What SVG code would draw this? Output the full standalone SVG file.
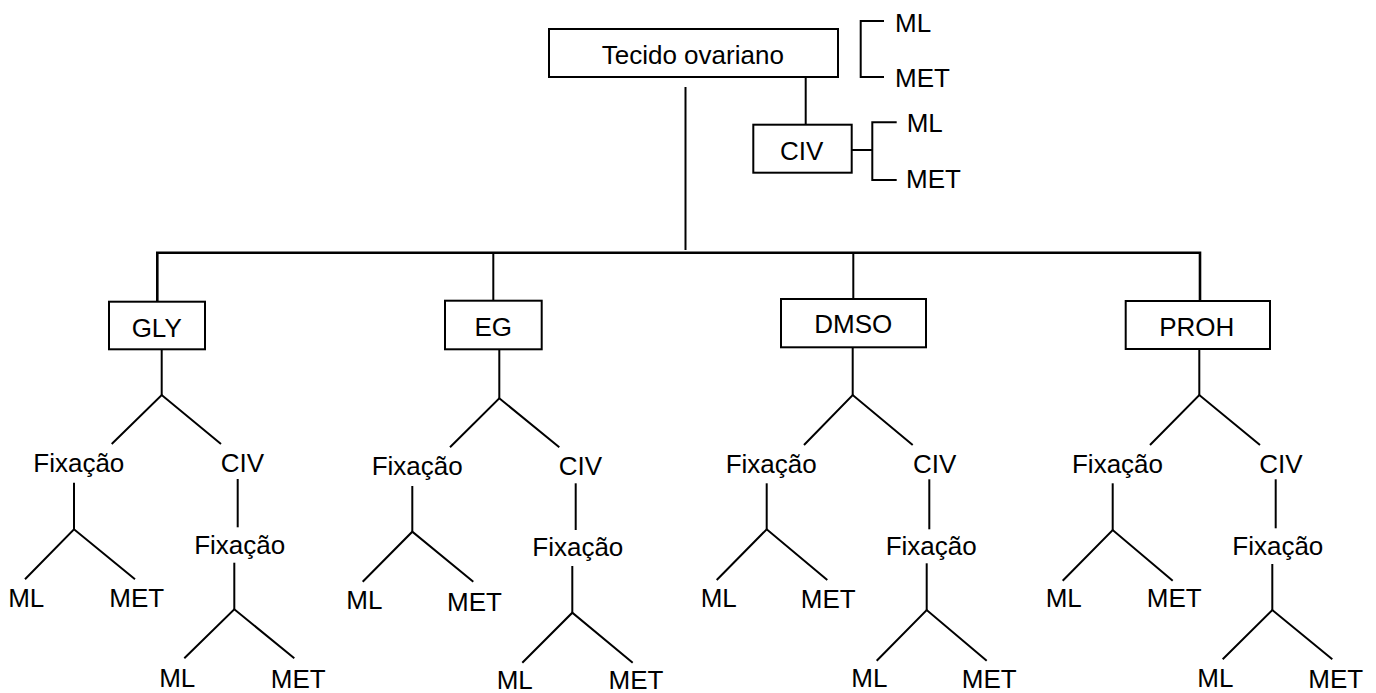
<svg xmlns="http://www.w3.org/2000/svg" width="1376" height="693" viewBox="0 0 1376 693">
<style>
text{font-family:"Liberation Sans",Arial,sans-serif;font-size:26px;fill:#000}
.m{text-anchor:middle}
.box{fill:#fff;stroke:#000;stroke-width:2}
.ln{stroke:#000;stroke-width:2;fill:none}
.main{stroke:#000;stroke-width:2.6;fill:none}
</style>
<rect width="1376" height="693" fill="#fff"/>
<g id="connectors">
<line class="ln" x1="685.5" y1="87" x2="685.5" y2="250"/>
<polyline class="main" points="157.3,301.7 157.3,252.7 1200,252.7 1200,301"/>
<line class="ln" x1="493.3" y1="252.7" x2="493.3" y2="300.7"/>
<line class="ln" x1="853.3" y1="252.7" x2="853.3" y2="299"/>
<line class="ln" x1="805.7" y1="77" x2="805.7" y2="124.7"/>
<polyline class="ln" points="884,21 860.7,21 860.7,77 884,77"/>
<line class="ln" x1="851.7" y1="150" x2="872.3" y2="150"/>
<polyline class="ln" points="896.7,122.3 872.3,122.3 872.3,180 896.7,180"/>
<!-- GLY -->
<line class="ln" x1="161.7" y1="349.3" x2="161.7" y2="395"/>
<polyline class="ln" points="111.7,444 161.7,395 221,444"/>
<line class="ln" x1="74" y1="482.7" x2="74" y2="529.3"/>
<polyline class="ln" points="25,579.3 74,529.3 135,579.3"/>
<line class="ln" x1="237.7" y1="479" x2="237.7" y2="527.3"/>
<line class="ln" x1="234.3" y1="562.7" x2="234.3" y2="609.3"/>
<polyline class="ln" points="184.3,658.3 234.3,609.3 294.3,658.3"/>
<!-- EG -->
<line class="ln" x1="499.3" y1="349.3" x2="499.3" y2="398.3"/>
<polyline class="ln" points="450,447.3 499.3,398.3 559.3,447.3"/>
<line class="ln" x1="412.3" y1="486" x2="412.3" y2="531.7"/>
<polyline class="ln" points="362.7,581.7 412.3,531.7 473.3,581.7"/>
<line class="ln" x1="575.7" y1="483.3" x2="575.7" y2="530"/>
<line class="ln" x1="572.3" y1="566" x2="572.3" y2="612.7"/>
<polyline class="ln" points="522.3,662.7 572.3,612.7 632.7,662.7"/>
<!-- DMSO -->
<line class="ln" x1="852.7" y1="347.3" x2="852.7" y2="395"/>
<polyline class="ln" points="804,445 852.7,395 912.7,445"/>
<line class="ln" x1="766.7" y1="483.3" x2="766.7" y2="529.3"/>
<polyline class="ln" points="716.7,580 766.7,529.3 827.3,580"/>
<line class="ln" x1="929.3" y1="479.3" x2="929.3" y2="529.3"/>
<line class="ln" x1="926.7" y1="563.3" x2="926.7" y2="610"/>
<polyline class="ln" points="876.7,660.7 926.7,610 986.7,660.7"/>
<!-- PROH -->
<line class="ln" x1="1199.3" y1="349" x2="1199.3" y2="395"/>
<polyline class="ln" points="1150,445 1199.3,395 1260,445"/>
<line class="ln" x1="1112.7" y1="483.3" x2="1112.7" y2="530"/>
<polyline class="ln" points="1062.7,580.7 1112.7,530 1172.7,580.7"/>
<line class="ln" x1="1275.7" y1="479.3" x2="1275.7" y2="528.3"/>
<line class="ln" x1="1272.3" y1="564" x2="1272.3" y2="610"/>
<polyline class="ln" points="1222.7,659.3 1272.3,610 1332.3,659.3"/>
</g>
<g id="tecido"><rect class="box" x="549" y="29" width="289" height="48"/><text class="m" x="692.8" y="64">Tecido ovariano</text></g>
<g id="civ-top"><rect class="box" x="753.3" y="124.7" width="98.4" height="48"/><text class="m" x="801.7" y="160">CIV</text></g>
<g id="top-ml"><text x="895" y="31.7">ML</text></g>
<g id="top-met"><text x="895" y="87.3">MET</text></g>
<g id="civ-ml"><text x="906.7" y="131.7">ML</text></g>
<g id="civ-met"><text x="906" y="188.3">MET</text></g>
<g id="gly">
<rect class="box" x="109" y="301.7" width="96" height="47.6"/><text class="m" x="156.7" y="336.7">GLY</text>
<text class="m" x="78.8" y="472.3">Fixação</text><text class="m" x="242.5" y="472.3">CIV</text>
<text class="m" x="26.2" y="606.7">ML</text><text class="m" x="136.7" y="606.7">MET</text>
<text class="m" x="239.7" y="554">Fixação</text>
<text class="m" x="177.2" y="686.7">ML</text><text class="m" x="298.3" y="688">MET</text>
</g>
<g id="eg">
<rect class="box" x="445" y="300.7" width="96.7" height="48.6"/><text class="m" x="493.3" y="335.7">EG</text>
<text class="m" x="417.2" y="475">Fixação</text><text class="m" x="580.5" y="475">CIV</text>
<text class="m" x="364.3" y="609.3">ML</text><text class="m" x="474.5" y="610.7">MET</text>
<text class="m" x="577.8" y="556">Fixação</text>
<text class="m" x="514.7" y="688.5">ML</text><text class="m" x="636" y="689">MET</text>
</g>
<g id="dmso">
<rect class="box" x="781" y="299" width="145" height="48.3"/><text class="m" x="853.3" y="333.3">DMSO</text>
<text class="m" x="771.2" y="473.3">Fixação</text><text class="m" x="934.7" y="473.3">CIV</text>
<text class="m" x="718.7" y="607.3">ML</text><text class="m" x="828.3" y="607.7">MET</text>
<text class="m" x="931.2" y="555">Fixação</text>
<text class="m" x="869.3" y="686.7">ML</text><text class="m" x="989.2" y="688">MET</text>
</g>
<g id="proh">
<rect class="box" x="1125.7" y="301" width="144.3" height="48"/><text class="m" x="1196.7" y="336">PROH</text>
<text class="m" x="1117.5" y="473.3">Fixação</text><text class="m" x="1280.8" y="473">CIV</text>
<text class="m" x="1063.7" y="606.7">ML</text><text class="m" x="1174.2" y="607">MET</text>
<text class="m" x="1277.8" y="555">Fixação</text>
<text class="m" x="1215.3" y="686.7">ML</text><text class="m" x="1335.8" y="688">MET</text>
</g>
</svg>
